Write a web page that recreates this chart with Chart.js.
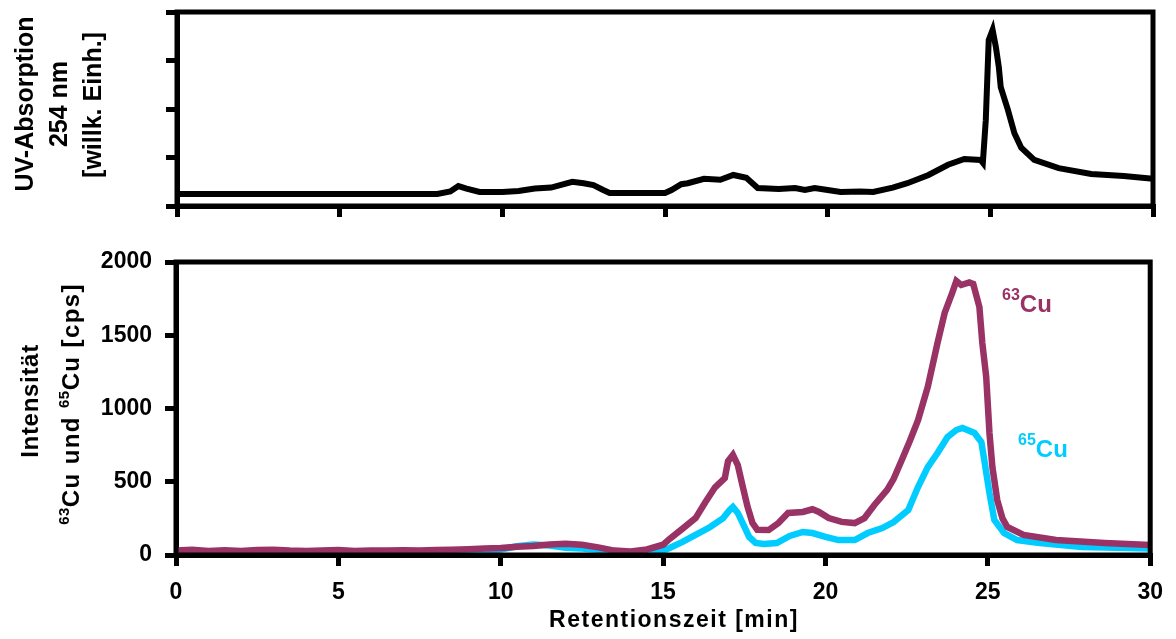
<!DOCTYPE html>
<html>
<head>
<meta charset="utf-8">
<script src="https://cdn.jsdelivr.net/npm/chart.js@4.4.1/dist/chart.umd.min.js"></script>
<style>
  html, body { margin: 0; padding: 0; background: #ffffff; }
  #wrap { position: relative; width: 1176px; height: 639px; overflow: hidden; background: #fff; }
  #uv { position: absolute; left: 0; top: 0; }
  #cu { position: absolute; left: 0; top: 230px; }
</style>
</head>
<body>
<div id="wrap">
  <canvas id="uv" width="1176" height="225"></canvas>
  <canvas id="cu" width="1176" height="409"></canvas>
</div>
<script>
// ---- Data ----
const xTickValues = [0, 5, 10, 15, 20, 25, 30];
const cuYTicks = [0, 500, 1000, 1500, 2000];

// UV absorption at 254 nm (arbitrary units, 0..4 axis)
const uvTime = [0,2,4,6,8,8.4,8.65,8.9,9.3,10,10.5,11,11.5,12.15,12.5,12.8,13.1,13.3,14,15,15.2,15.5,15.7,16.2,16.7,17.1,17.5,17.85,18.5,19,19.3,19.6,20,20.4,21,21.4,22,22.45,23.1,23.7,24.2,24.7,24.77,24.86,24.95,25.07,25.17,25.26,25.32,25.54,25.74,25.95,26.35,27.1,28.1,29.1,30];
const uvValue = [0.25,0.25,0.25,0.25,0.25,0.3,0.41,0.36,0.29,0.29,0.31,0.36,0.38,0.5,0.47,0.43,0.33,0.27,0.27,0.27,0.33,0.45,0.47,0.56,0.54,0.64,0.58,0.37,0.35,0.37,0.33,0.37,0.33,0.29,0.3,0.29,0.38,0.47,0.64,0.85,0.97,0.95,0.89,1.77,3.42,3.63,3.28,2.87,2.45,1.98,1.5,1.2,0.95,0.78,0.66,0.62,0.56];

// 63Cu intensity [cps]
const cu63Time = [0,0.5,1,1.5,2,2.5,3,3.5,4,4.5,5,5.5,6,6.5,7,7.5,8,8.5,9,9.5,10,10.5,11,11.5,12,12.5,13,13.5,14,14.5,15,15.2,15.6,16,16.3,16.6,16.9,17,17.15,17.3,17.45,17.6,17.75,17.9,18.25,18.55,18.85,19.3,19.6,19.8,20.1,20.5,20.9,21.2,21.5,21.9,22.1,22.35,22.6,22.85,23.15,23.45,23.67,23.9,24.03,24.18,24.43,24.55,24.74,24.83,24.95,25.05,25.14,25.29,25.45,25.6,26.1,27.1,28.6,30];
const cu63Value = [30,36,28,32,28,34,36,30,28,30,34,28,30,30,32,30,34,36,40,44,48,56,62,72,76,70,52,30,24,38,70,110,180,252,360,462,525,640,683,614,470,330,220,172,170,218,287,294,312,294,252,226,218,252,340,444,520,648,780,921,1147,1447,1652,1788,1870,1843,1860,1850,1693,1447,1215,833,600,375,250,191,137,102,82,68];

// 65Cu intensity [cps]
const cu65Time = [0,0.5,1,1.5,2,2.5,3,3.5,4,4.5,5,5.5,6,6.5,7,7.5,8,8.5,9,9.5,10,10.5,11,11.5,12,12.5,13,13.5,14,14.5,14.8,15.2,15.6,16,16.45,16.85,17.05,17.15,17.3,17.45,17.65,17.85,18.1,18.5,18.9,19.3,19.6,20,20.4,20.9,21.3,21.75,22.1,22.55,22.85,23.15,23.45,23.76,24.03,24.22,24.59,24.8,24.89,25.05,25.2,25.5,25.9,26.6,27.9,30];
const cu65Value = [18,22,15,20,15,22,20,15,15,18,20,12,15,18,15,15,20,22,25,30,38,60,72,65,50,45,35,10,3,5,14,48,89,137,191,252,307,328,287,218,123,82,75,82,130,157,150,123,102,102,150,184,225,307,464,600,696,805,853,867,833,771,648,423,239,150,102,82,55,45];

// ---- Styling ----
const FAM = '"Liberation Sans", Arial, Helvetica, sans-serif';
const COL63 = '#993366';
const COL65 = '#00CCFF';

function pts(xs, ys) { return xs.map((x, i) => ({ x: x, y: ys[i] })); }

function drawRich(ctx, parts, x, y, rotate, align) {
  ctx.save();
  ctx.translate(x, y);
  if (rotate) ctx.rotate(-Math.PI / 2);
  ctx.textBaseline = 'alphabetic';
  ctx.textAlign = 'left';
  let total = 0;
  const widths = parts.map(p => {
    ctx.font = 'bold ' + p.size + 'px ' + FAM;
    ctx.letterSpacing = (p.ls || 0) + 'px';
    const w = ctx.measureText(p.t).width;
    total += w;
    return w;
  });
  let cx = align === 'left' ? 0 : -total / 2;
  parts.forEach((p, i) => {
    ctx.font = 'bold ' + p.size + 'px ' + FAM;
    ctx.letterSpacing = (p.ls || 0) + 'px';
    ctx.fillStyle = p.color || '#000';
    ctx.fillText(p.t, cx, -(p.rise || 0));
    cx += widths[i];
  });
  ctx.restore();
}

const framePlugin = {
  id: 'frame',
  afterDraw(chart) {
    const ctx = chart.ctx, a = chart.chartArea;
    ctx.save();
    ctx.strokeStyle = '#000';
    ctx.lineWidth = 5;
    ctx.strokeRect(a.left, a.top, a.right - a.left, a.bottom - a.top);
    ctx.restore();
  }
};

const uvTitlePlugin = {
  id: 'uvTitle',
  afterDraw(chart) {
    const ctx = chart.ctx;
    drawRich(ctx, [{ t: 'UV-Absorption', size: 25 }], 33, 104, true);
    drawRich(ctx, [{ t: '254 nm', size: 25 }], 67, 104, true);
    drawRich(ctx, [{ t: '[willk. Einh.]', size: 25 }], 101, 105, true);
  }
};

const cuTextPlugin = {
  id: 'cuText',
  afterDraw(chart) {
    const ctx = chart.ctx;
    const off = 230;
    drawRich(ctx, [{ t: 'Intensität', size: 24, ls: 0.7 }], 38, 401 - off, true);
    drawRich(ctx, [
      { t: '63', size: 15, rise: 10, ls: 0.5 },
      { t: 'Cu und ', size: 24, ls: 1.4 },
      { t: '65', size: 15, rise: 10, ls: 0.5 },
      { t: 'Cu [cps]', size: 24, ls: 1.4 }
    ], 79, 404 - off, true);
    drawRich(ctx, [{ t: 'Retentionszeit [min]', size: 23, ls: 1.5 }], 674, 627 - off, false);
    drawRich(ctx, [
      { t: '63', size: 16, rise: 12, color: COL63 },
      { t: 'Cu', size: 24, color: COL63 }
    ], 1002, 312 - off, false, 'left');
    drawRich(ctx, [
      { t: '65', size: 16, rise: 12, color: COL65 },
      { t: 'Cu', size: 24, color: COL65 }
    ], 1018, 457 - off, false, 'left');
  }
};

const tickFont = { family: FAM, size: 23, weight: 'bold' };
const gridOpts = { drawOnChartArea: false, drawTicks: true, tickLength: 11, lineWidth: 5, color: '#000' };
const borderOpts = { display: true, width: 5, color: '#000' };
const plainNum = v => String(v);

Chart.defaults.font.family = FAM;

function fitArea(chart, want) {
  // nudge layout padding until the plot area sits where the reference has it
  for (let k = 0; k < 3; k++) {
    const a = chart.chartArea, p = chart.options.layout.padding;
    const dR = a.right - want.right, dT = want.top - a.top;
    if (Math.abs(dR) < 0.5 && Math.abs(dT) < 0.5) break;
    p.right += dR; p.top += dT;
    chart.update('none');
  }
}

// ---- Top chart: UV absorption ----
const uvChart = new Chart(document.getElementById('uv'), {
  type: 'line',
  data: {
    datasets: [{
      data: pts(uvTime, uvValue),
      borderColor: '#000',
      borderWidth: 6,
      pointRadius: 0,
      tension: 0,
      fill: false
    }]
  },
  options: {
    responsive: false,
    animation: false,
    events: [],
    layout: { padding: { top: 12, right: 23, left: 0, bottom: 0 } },
    plugins: { legend: { display: false }, tooltip: { enabled: false }, title: { display: false } },
    scales: {
      x: {
        type: 'linear', min: 0, max: 30,
        afterBuildTicks: s => { s.ticks = xTickValues.map(v => ({ value: v })); },
        afterFit: s => { s.height = 19; },
        ticks: { display: false },
        grid: gridOpts, border: borderOpts
      },
      y: {
        type: 'linear', min: 0, max: 4,
        ticks: { display: false, stepSize: 1 },
        afterFit: s => { s.width = 177; },
        grid: gridOpts, border: borderOpts
      }
    }
  },
  plugins: [framePlugin, uvTitlePlugin]
});
fitArea(uvChart, { right: 1153, top: 12 });

// ---- Bottom chart: Cu isotopes ----
const cuChart = new Chart(document.getElementById('cu'), {
  type: 'line',
  data: {
    datasets: [
      { label: '63Cu', data: pts(cu63Time, cu63Value), borderColor: COL63, borderWidth: 6.5, pointRadius: 0, tension: 0, fill: false },
      { label: '65Cu', data: pts(cu65Time, cu65Value), borderColor: COL65, borderWidth: 6.5, pointRadius: 0, tension: 0, fill: false }
    ]
  },
  options: {
    responsive: false,
    animation: false,
    events: [],
    layout: { padding: { top: 32, right: 19, left: 0, bottom: 0 } },
    plugins: { legend: { display: false }, tooltip: { enabled: false }, title: { display: false } },
    scales: {
      x: {
        type: 'linear', min: 0, max: 30,
        afterBuildTicks: s => { s.ticks = xTickValues.map(v => ({ value: v })); },
        afterFit: s => { s.height = 84; },
        ticks: { font: tickFont, color: '#000', padding: 13, maxRotation: 0, callback: plainNum },
        grid: gridOpts, border: borderOpts
      },
      y: {
        type: 'linear', min: 0, max: 2000,
        afterBuildTicks: s => { s.ticks = cuYTicks.map(v => ({ value: v })); },
        afterFit: s => { s.width = 176; },
        ticks: { font: tickFont, color: '#000', padding: 13, callback: plainNum },
        grid: gridOpts, border: borderOpts
      }
    }
  },
  plugins: [framePlugin, cuTextPlugin]
});
fitArea(cuChart, { right: 1157, top: 32 });
</script>
</body>
</html>
